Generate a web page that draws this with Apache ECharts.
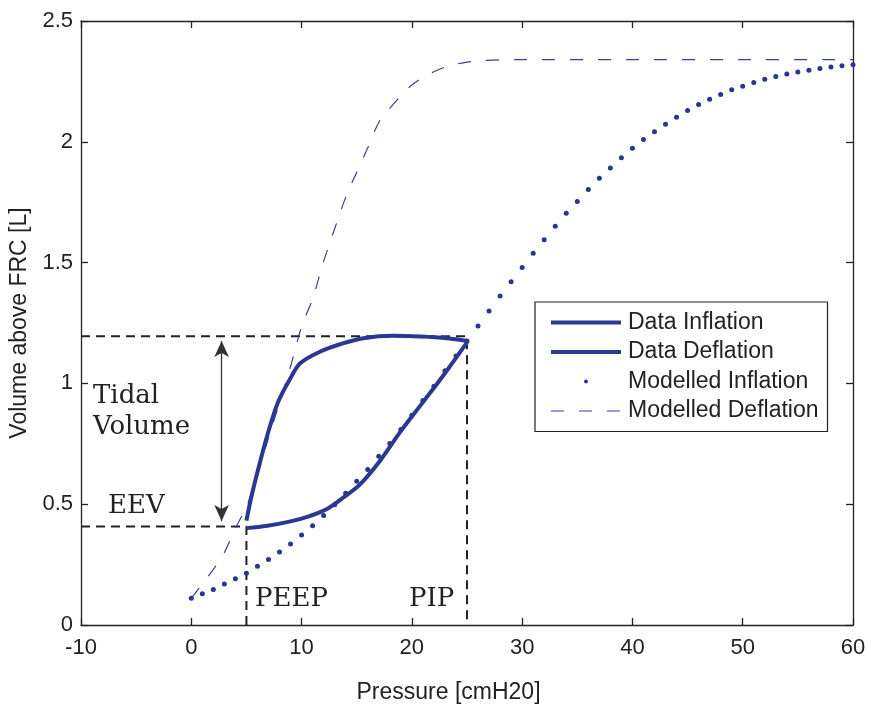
<!DOCTYPE html>
<html>
<head>
<meta charset="utf-8">
<script src="https://cdn.jsdelivr.net/npm/echarts@6/dist/echarts.min.js"></script>
<style>
html,body{margin:0;padding:0;background:#fff;}
#chart{width:871px;height:709px;}
</style>
</head>
<body>
<div id="chart"></div>
<script>
// ---- Data ----
const xTicks = [-10, 0, 10, 20, 30, 40, 50, 60];
const yTicks = [0, 0.5, 1, 1.5, 2, 2.5];

// Modelled inflation (dots, one every 1 cmH2O)
const modelInflP = [0,1,2,3,4,5,6,7,8,9,10,11,12,13,14,15,16,17,18,19,20,21,22,23,24,25,26,27,28,29,30,
  31,32,33,34,35,36,37,38,39,40,41,42,43,44,45,46,47,48,49,50,51,52,53,54,55,56,57,58,59,60];
const modelInflV = [0.111,0.129,0.147,0.170,0.191,0.214,0.243,0.271,0.302,0.335,0.372,0.411,0.453,0.498,0.545,
  0.595,0.644,0.698,0.751,0.809,0.868,0.929,0.988,1.052,1.113,1.176,1.238,1.300,1.362,1.421,1.480,
  1.539,1.595,1.650,1.704,1.753,1.803,1.849,1.892,1.934,1.973,2.010,2.042,2.073,2.102,2.130,2.154,
  2.176,2.196,2.215,2.230,2.245,2.259,2.270,2.281,2.289,2.296,2.303,2.310,2.315,2.319];

// Modelled deflation (thin dashed)
const modelDeflP = [0,1,2,3,4,5,6,7,8,9,10,11,12,13,14,15,16,17,18,19,20,21,22,23,24,25,26,28,30,40,50,60];
const modelDeflV = [0.11,0.17,0.23,0.30,0.40,0.49,0.62,0.775,0.92,1.07,1.235,1.35,1.505,1.64,1.77,1.874,
  1.975,2.08,2.138,2.19,2.235,2.267,2.29,2.309,2.321,2.33,2.335,2.339,2.34,2.34,2.34,2.34];

// Data inflation (lower thick curve)
const dataInflP = [5,6.9,9.0,10.8,12.3,13.8,15.3,17.1,18.9,20.8,22.9,25.0];
const dataInflV = [0.401,0.411,0.429,0.452,0.480,0.528,0.582,0.679,0.796,0.910,1.036,1.170];

// Data deflation (upper thick curve)
const dataDeflP = [5,5.5,6.26,7.0,7.9,9.0,9.9,11.7,13.5,15.6,18.3,20.8,23.2,25.0];
const dataDeflV = [0.432,0.541,0.679,0.802,0.926,1.022,1.084,1.132,1.162,1.187,1.197,1.194,1.187,1.176];

// Reference guide lines (PEEP / PIP / EEV / tidal volume)
const peep = 5, pip = 25, eev = 0.408, endInsp = 1.195, xMin = -10;
const tidalArrowX = 2.75, tidalArrowLow = 0.43, tidalArrowHigh = 1.175;

const zip = (a, b) => a.map((v, i) => [v, b[i]]);

const BLUE = '#2c3794';
const AX = '#222222';
const SANS = 'Liberation Sans, Arial, Helvetica, sans-serif';
const SERIF = 'DejaVu Serif, serif';

const chart = echarts.init(document.getElementById('chart'), null, {renderer: 'canvas'});

const axisCommon = {
  type: 'value',
  axisLine: {show: true, onZero: false, lineStyle: {color: AX, width: 1.3}},
  axisTick: {show: true, inside: true, length: 7, lineStyle: {color: AX, width: 1.3}},
  splitLine: {show: false}
};

chart.setOption({
  backgroundColor: '#fff',
  animation: false,
  grid: {left: 81, right: 18, top: 21, bottom: 81, containLabel: false},
  xAxis: [
    Object.assign({}, axisCommon, {
      position: 'bottom', min: xTicks[0], max: xTicks[xTicks.length - 1], interval: 10,
      axisLabel: {color: AX, fontFamily: SANS, fontSize: 22, margin: 12},
      name: 'Pressure [cmH20]', nameLocation: 'middle', nameGap: 56,
      nameTextStyle: {color: AX, fontFamily: SANS, fontSize: 23, padding: [0, 37, 0, 0]}
    }),
    Object.assign({}, axisCommon, {
      position: 'top', min: xTicks[0], max: xTicks[xTicks.length - 1], interval: 10,
      axisLabel: {show: false}
    })
  ],
  yAxis: [
    Object.assign({}, axisCommon, {
      position: 'left', min: yTicks[0], max: yTicks[yTicks.length - 1], interval: 0.5,
      axisLabel: {color: AX, fontFamily: SANS, fontSize: 22, margin: 8},
      name: 'Volume above FRC [L]', nameLocation: 'middle', nameGap: 28, nameRotate: 90,
      nameTextStyle: {color: AX, fontFamily: SANS, fontSize: 23}
    }),
    Object.assign({}, axisCommon, {
      position: 'right', min: yTicks[0], max: yTicks[yTicks.length - 1], interval: 0.5,
      axisLabel: {show: false}
    })
  ],
  legend: {
    orient: 'vertical',
    left: 535, top: 302,
    padding: [9, 9, 9, 14],
    itemWidth: 70, itemHeight: 4, itemGap: 6.5,
    borderColor: AX, borderWidth: 1.2, borderRadius: 0,
    backgroundColor: '#fff',
    textStyle: {color: AX, fontFamily: SANS, fontSize: 23, padding: [0, 0, 0, 2]},
    lineStyle: {width: 'inherit'},
    data: [
      {name: 'Data Inflation', itemStyle: {opacity: 0}},
      {name: 'Data Deflation', itemStyle: {opacity: 0}},
      {name: 'Modelled Inflation'},
      {name: 'Modelled Deflation', itemStyle: {opacity: 0}}
    ]
  },
  series: [
    {
      name: 'guideTidal', type: 'line', silent: true, symbol: 'none', z: 1,
      data: [[xMin, endInsp], [pip, endInsp], [pip, 0]],
      lineStyle: {color: AX, width: 2, type: [9, 6]}
    },
    {
      name: 'guideEEV', type: 'line', silent: true, symbol: 'none', z: 1,
      data: [[xMin, eev], [peep, eev], [peep, 0]],
      lineStyle: {color: AX, width: 2, type: [9, 6]},
      markLine: {
        silent: true, symbol: ['arrow', 'arrow'], symbolSize: [11, 16],
        label: {show: false},
        lineStyle: {color: '#333', width: 1.3, type: 'solid'},
        data: [[{coord: [tidalArrowX, tidalArrowLow]}, {coord: [tidalArrowX, tidalArrowHigh]}]]
      }
    },
    {
      name: 'Modelled Deflation', type: 'line', symbol: 'none', smooth: 0.3, z: 3,
      data: zip(modelDeflP, modelDeflV),
      itemStyle: {color: '#3443a0'},
      lineStyle: {color: '#3443a0', width: 1.2, type: [13, 15]}
    },
    {
      name: 'Modelled Inflation', type: 'scatter', symbol: 'circle', symbolSize: 5, z: 4,
      data: zip(modelInflP, modelInflV),
      itemStyle: {color: '#283591', opacity: 1}
    },
    {
      name: 'Data Inflation', type: 'line', symbol: 'none', smooth: 0.35, z: 5,
      data: zip(dataInflP, dataInflV),
      itemStyle: {color: BLUE},
      lineStyle: {color: BLUE, width: 4}
    },
    {
      name: 'Data Deflation', type: 'line', symbol: 'none', smooth: 0.35, z: 5,
      data: zip(dataDeflP, dataDeflV),
      itemStyle: {color: BLUE},
      lineStyle: {color: BLUE, width: 4}
    }
  ],
  graphic: [
    {type: 'text', left: 93, top: 383, style: {text: 'Tidal', font: '26px ' + SERIF, fill: '#222'}},
    {type: 'text', left: 93, top: 414, style: {text: 'Volume', font: '26px ' + SERIF, fill: '#222'}},
    {type: 'text', left: 108, top: 493, style: {text: 'EEV', font: '26px ' + SERIF, fill: '#222'}},
    {type: 'text', left: 255, top: 586, style: {text: 'PEEP', font: '26px ' + SERIF, fill: '#222'}},
    {type: 'text', left: 409, top: 586, style: {text: 'PIP', font: '26px ' + SERIF, fill: '#222'}}
  ]
});
</script>
</body>
</html>
